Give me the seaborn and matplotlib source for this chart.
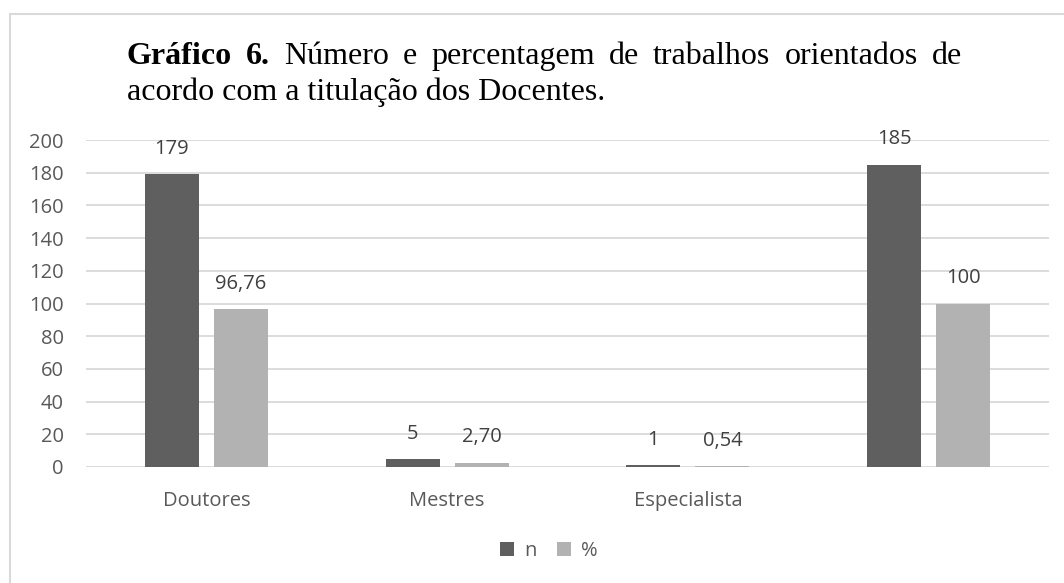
import numpy as np
import pandas as pd
import matplotlib
matplotlib.use("Agg")
import matplotlib.pyplot as plt
import seaborn as sns
from matplotlib.patches import Rectangle, Patch

# data
categories = ["Doutores", "Mestres", "Especialista", " "]
n_values = [179, 5, 1, 185]
pct_values = [96.76, 2.70, 0.54, 100]
n_labels = ["179", "5", "1", "185"]
pct_labels = ["96,76", "2,70", "0,54", "100"]
series = ["n", "%"]
colors = ["#5f5f5f", "#b2b2b2"]

df = pd.DataFrame({
    "cat": categories * 2,
    "serie": ["n"] * 4 + ["%"] * 4,
    "valor": n_values + pct_values,
})

sns.set_theme(style="white")
plt.rcParams["font.family"] = ["Open Sans", "DejaVu Sans"]

fig = plt.figure(figsize=(10.64, 5.83), dpi=100)
ax = fig.add_axes([86 / 1064, 1 - 467 / 583, (1049 - 86) / 1064, (467 - 140) / 583])

sns.barplot(data=df, x="cat", y="valor", hue="serie", order=categories,
            hue_order=series, palette=colors, width=0.575, gap=0.22,
            saturation=1, ax=ax, legend=False, linewidth=0)

for cont, labs in zip(ax.containers, [n_labels, pct_labels]):
    ax.bar_label(cont, labels=labs, padding=11, fontsize=14.5, color="#404040")

ax.set_ylim(0, 200)
ax.set_xlim(-0.5, 3.5)
ax.set_yticks(np.arange(0, 201, 20))
ax.yaxis.grid(True, color="#d9d9d9", linewidth=1.3)
ax.set_axisbelow(True)
for s in ax.spines.values():
    s.set_visible(False)
ax.tick_params(axis="y", labelsize=14.5, labelcolor="#595959", length=0, pad=16)
ax.tick_params(axis="x", labelsize=14.5, labelcolor="#595959", length=0, pad=17)
ax.set_xlabel("")
ax.set_ylabel("")

# legend at bottom
handles = [Patch(facecolor=c, edgecolor="none") for c in colors]
fig.legend(handles, series, loc="center", bbox_to_anchor=(549 / 1064, 1 - 551 / 583),
           ncol=2, frameon=False, fontsize=14.5, handlelength=0.7, handleheight=0.7,
           handletextpad=0.5, columnspacing=1.0, labelcolor="#595959")

# outer chart border
fig.patches.append(Rectangle((10 / 1064, -0.01), 1.1, 1 - 14 / 583 + 0.01,
                             transform=fig.transFigure, fill=False,
                             edgecolor="#d9d9d9", linewidth=1.5))

# justified two-line title
fig.canvas.draw()
r = fig.canvas.get_renderer()
tsize = 23
x0, x1 = 127, 962
y_line1, y_line2 = 1 - 64 / 583, 1 - 100 / 583
words1 = [("Gráfico", "bold"), ("6.", "bold"), ("Número", "normal"), ("e", "normal"),
          ("percentagem", "normal"), ("de", "normal"), ("trabalhos", "normal"),
          ("orientados", "normal"), ("de", "normal")]
arts = []
widths = []
for w, wt in words1:
    t = fig.text(0, y_line1, w, fontsize=tsize, fontweight=wt,
                 family="Liberation Serif", color="black", va="baseline")
    arts.append(t)
    widths.append(t.get_window_extent(r).width)
space = (x1 - x0 - sum(widths)) / (len(words1) - 1)
xp = x0
for t, wd in zip(arts, widths):
    t.set_x(xp / 1064)
    xp += wd + space
fig.text(x0 / 1064, y_line2, "acordo com a titulação dos Docentes.", fontsize=tsize,
         family="Liberation Serif", color="black", va="baseline")

fig.savefig("out.png", dpi=100)
